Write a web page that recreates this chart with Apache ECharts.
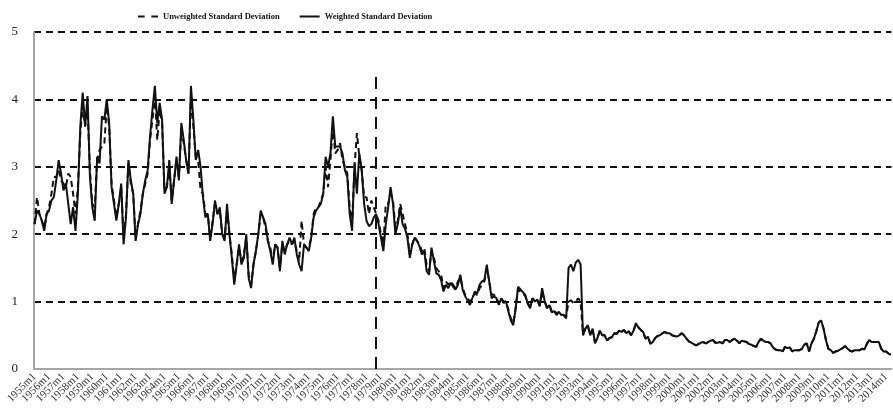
<!DOCTYPE html>
<html lang="en">
<head>
<meta charset="UTF-8">
<title>Standard Deviation</title>
<script src="https://cdn.jsdelivr.net/npm/echarts@6/dist/echarts.min.js"></script>
<style>
    html, body { margin: 0; padding: 0; background: #fff; }
    #chart { width: 893px; height: 412px; }
</style>
</head>
<body>
<div id="chart"></div>
<script type="text/javascript">

    // readings every 2 months (m1, m3, m5, m7, m9, m11), one line per year
    var w1955 = [
        2.15, 2.35, 2.3, 2.2, 2.05, 2.3,
        2.35, 2.5, 2.55, 2.8, 3.1, 2.9,
        2.65, 2.75, 2.45, 2.15, 2.4, 2.05,
        2.6, 3.6, 4.1, 3.6, 4.05, 2.85,
        2.4, 2.2, 3.15, 3.05, 3.75, 3.7,
        4.0, 3.65, 2.7, 2.45, 2.2, 2.45,
        2.75, 1.85, 2.25, 3.1, 2.8, 2.6,
        1.9, 2.15, 2.3, 2.6, 2.8, 2.95,
        3.45, 3.85, 4.2, 3.65, 3.95, 3.7,
        2.6, 2.7, 3.1, 2.45, 2.8, 3.15
    ];
    var w1965 = [
        2.8, 3.65, 3.4, 3.1, 2.9, 4.2,
        3.7, 3.1, 3.25, 3.0, 2.55, 2.25,
        2.3, 1.9, 2.15, 2.5, 2.3, 2.4,
        2.0, 1.9, 2.45, 2.0, 1.65, 1.25,
        1.55, 1.85, 1.55, 1.65, 2.0, 1.35,
        1.2, 1.55, 1.75, 2.0, 2.35, 2.25,
        2.15, 1.9, 1.75, 1.55, 1.85, 1.8,
        1.45, 1.9, 1.7, 1.85, 1.95, 1.85,
        1.95, 1.7, 1.55, 1.45, 1.85, 1.8,
        1.75, 1.95, 2.25, 2.35, 2.4, 2.45
    ];
    var w1975 = [
        2.6, 3.15, 3.0, 3.2, 3.75, 3.3,
        3.3, 3.3, 3.2, 2.95, 2.85, 2.3,
        2.05, 3.05, 2.6, 3.2, 2.95, 2.45,
        2.2, 2.12, 2.15, 2.25, 2.3, 2.15,
        1.95, 1.75, 2.15, 2.4, 2.7, 2.45,
        2.0, 2.15, 2.4, 2.15, 2.08, 1.95,
        1.65, 1.85, 1.95, 1.9, 1.82, 1.7,
        1.75, 1.45, 1.4, 1.8, 1.6, 1.42,
        1.4, 1.32, 1.15, 1.25, 1.2, 1.28,
        1.22, 1.18, 1.25, 1.4, 1.17, 1.08
    ];
    var w1985 = [
        1.02, 0.95, 1.05, 1.15, 1.12, 1.25,
        1.3, 1.32, 1.55, 1.3, 1.05, 1.08,
        1.05, 0.95, 1.05, 0.98, 1.0, 0.85,
        0.72, 0.65, 0.9, 1.22, 1.18, 1.14,
        1.1, 0.97, 0.9, 1.05, 1.0, 1.03,
        0.93, 1.2, 1.02, 0.9, 0.95, 0.84,
        0.86, 0.8, 0.85, 0.8, 0.8, 0.75,
        1.5, 1.55, 1.45, 1.58, 1.62, 1.55,
        0.5, 0.6, 0.65, 0.5, 0.6, 0.38,
        0.46, 0.57, 0.5, 0.5, 0.42, 0.46
    ];
    var w1995 = [
        0.47, 0.53, 0.52, 0.57, 0.55, 0.58,
        0.53, 0.56, 0.5, 0.57, 0.68, 0.62,
        0.58, 0.55, 0.45, 0.48, 0.37, 0.4,
        0.46, 0.49, 0.5, 0.53, 0.55, 0.53,
        0.53, 0.5, 0.49, 0.48, 0.5, 0.53,
        0.5, 0.45, 0.41, 0.39, 0.37, 0.35,
        0.37, 0.39, 0.4, 0.38, 0.4, 0.42,
        0.43, 0.39, 0.39, 0.4, 0.38, 0.43,
        0.43, 0.4, 0.43, 0.45, 0.42, 0.38,
        0.42, 0.41, 0.4, 0.37, 0.36, 0.34
    ];
    var w2005 = [
        0.33, 0.4, 0.45, 0.42, 0.4, 0.4,
        0.38, 0.32, 0.29, 0.28, 0.28, 0.26,
        0.33, 0.31, 0.32, 0.26, 0.28, 0.28,
        0.28, 0.3, 0.36, 0.38, 0.26, 0.38,
        0.45, 0.56, 0.69, 0.72, 0.6, 0.43,
        0.3, 0.28, 0.24, 0.26, 0.27, 0.29,
        0.31, 0.34, 0.3, 0.27, 0.26, 0.28,
        0.28, 0.28, 0.3, 0.29, 0.37, 0.43,
        0.4, 0.4, 0.4, 0.4, 0.3, 0.26,
        0.26, 0.23, 0.21
    ];

    var u1955 = [
        2.15, 2.55, 2.3, 2.2, 2.1, 2.3,
        2.4, 2.6, 2.85, 2.85, 2.95, 2.8,
        2.75, 2.7, 2.9, 2.85, 2.6, 2.3,
        2.7, 3.5, 3.9, 3.6, 3.9, 2.95,
        2.45, 2.4, 3.1, 3.25, 3.3, 3.35,
        3.9, 3.6, 2.75, 2.5, 2.25, 2.45,
        2.7, 1.95, 2.3, 3.05, 2.75, 2.6,
        1.95, 2.15, 2.35, 2.6, 2.75, 2.9,
        3.4, 3.7, 4.05, 3.4, 3.85, 3.65,
        2.65, 2.7, 3.0, 2.5, 2.8, 3.1
    ];
    var u1965 = [
        2.85, 3.55, 3.35, 3.1, 2.9, 4.05,
        3.6, 3.15, 3.1, 2.65, 2.6, 2.3,
        2.3, 1.95, 2.2, 2.45, 2.3, 2.35,
        2.0, 1.95, 2.35, 2.0, 1.7, 1.3,
        1.55, 1.8, 1.6, 1.7, 1.95, 1.4,
        1.25, 1.55, 1.75, 2.0, 2.3, 2.25,
        2.1, 1.9, 1.8, 1.6, 1.85, 1.8,
        1.5, 1.85, 1.75, 1.85, 1.9, 1.85,
        1.9, 1.75, 1.6, 2.2, 1.85, 1.8,
        1.8, 1.95, 2.3, 2.4, 2.4, 2.5
    ];
    var u1975 = [
        2.6, 3.0, 2.7, 3.1, 3.6, 3.2,
        3.25, 3.35, 3.1, 3.0, 2.9, 2.4,
        2.15, 3.0, 3.5, 3.15, 2.95, 2.55,
        2.55, 2.3, 2.5, 2.4, 2.3, 2.2,
        2.0, 1.85, 2.45, 2.45, 2.6, 2.5,
        2.1, 2.2, 2.45, 2.3, 2.15, 2.0,
        1.7, 1.85, 1.95, 1.9, 1.85, 1.75,
        1.8, 1.55, 1.45, 1.75, 1.65, 1.5,
        1.45, 1.4, 1.2, 1.3, 1.25, 1.3,
        1.25, 1.2, 1.3, 1.35, 1.2, 1.1
    ];
    var u1985 = [
        1.05, 1.0, 1.05, 1.12, 1.1, 1.2,
        1.25, 1.3, 1.5, 1.3, 1.1, 1.1,
        1.05, 0.98, 1.05, 1.0, 1.0, 0.88,
        0.75, 0.68, 0.9, 1.18, 1.15, 1.12,
        1.08, 0.98, 0.92, 1.05, 1.0, 1.02,
        0.95, 1.15, 1.0, 0.92, 0.95, 0.86,
        0.88, 0.82, 0.85, 0.82, 0.8, 0.78,
        1.0, 1.02, 0.98, 1.0, 1.05, 1.0,
        0.52, 0.6, 0.63, 0.52, 0.58, 0.4,
        0.46, 0.57, 0.5, 0.5, 0.42, 0.46
    ];
    var u1995 = [
        0.47, 0.53, 0.52, 0.57, 0.55, 0.58,
        0.53, 0.56, 0.5, 0.57, 0.66, 0.62,
        0.58, 0.55, 0.45, 0.48, 0.38, 0.4,
        0.46, 0.49, 0.5, 0.53, 0.55, 0.53,
        0.53, 0.5, 0.49, 0.48, 0.5, 0.53,
        0.5, 0.45, 0.41, 0.39, 0.37, 0.35,
        0.37, 0.39, 0.4, 0.38, 0.4, 0.42,
        0.43, 0.39, 0.39, 0.4, 0.38, 0.43,
        0.43, 0.4, 0.43, 0.45, 0.42, 0.38,
        0.42, 0.41, 0.4, 0.37, 0.36, 0.34
    ];
    var u2005 = [
        0.33, 0.4, 0.45, 0.42, 0.4, 0.4,
        0.38, 0.32, 0.29, 0.28, 0.28, 0.26,
        0.33, 0.31, 0.32, 0.26, 0.28, 0.28,
        0.28, 0.3, 0.36, 0.38, 0.26, 0.38,
        0.45, 0.56, 0.69, 0.72, 0.6, 0.43,
        0.3, 0.28, 0.24, 0.26, 0.27, 0.29,
        0.31, 0.34, 0.3, 0.27, 0.26, 0.28,
        0.28, 0.28, 0.3, 0.29, 0.37, 0.43,
        0.4, 0.4, 0.4, 0.4, 0.3, 0.26,
        0.26, 0.23, 0.21
    ];

    var firstYear = 1955, lastYear = 2014, lastMonth = 5;
    var breakMonth = '1978m9';
    var yTicks = [0, 1, 2, 3, 4, 5];

    var months = [];
    for (var y = firstYear; y <= lastYear; y++) {
        for (var m = 1; m <= 12; m++) {
            if (y === lastYear && m > lastMonth) break;
            months.push(y + 'm' + m);
        }
    }

    function toPairs(vals) {
        return vals.map(function (v, k) { return [k * 2, v]; });
    }
    var weighted = toPairs(w1955.concat(w1965, w1975, w1985, w1995, w2005));
    var unweighted = toPairs(u1955.concat(u1965, u1975, u1985, u1995, u2005));

    var serif = 'Liberation Serif';
    var myChart = echarts.init(document.getElementById('chart'));
    var option = {
        animation: false,
        textStyle: { fontFamily: serif },
        legend: {
            left: 133,
            top: 7,
            itemWidth: 20,
            itemHeight: 10,
            itemGap: 20,
            textStyle: { fontFamily: serif, fontWeight: 'bold', fontSize: 8.5, color: '#111' },
            data: [
                { name: 'Unweighted Standard Deviation', icon: 'path://M0,0H6V2H0Z M12,0H18V2H12Z' },
                { name: 'Weighted Standard Deviation', icon: 'path://M0,0H20V2H0Z' }
            ]
        },
        grid: { left: 34, right: 1, top: 32, bottom: 43 },
        xAxis: {
            type: 'category',
            data: months,
            boundaryGap: true,
            axisLine: { lineStyle: { color: '#a6a6a6', width: 2 } },
            axisTick: {
                interval: function (i) { return i % 12 === 0; },
                length: 4,
                lineStyle: { color: '#a6a6a6', width: 1 }
            },
            axisLabel: {
                // every category gets a label slot, only January is written
                interval: 0,
                formatter: function (v, i) { return i % 12 === 0 ? v : ''; },
                rotate: 45,
                margin: 6,
                fontSize: 11,
                color: '#333',
                fontFamily: serif
            },
            splitLine: { show: false }
        },
        yAxis: {
            type: 'value',
            min: yTicks[0],
            max: yTicks[yTicks.length - 1],
            interval: 1,
            axisLine: { show: true, lineStyle: { color: '#a6a6a6', width: 2 } },
            axisTick: { show: false },
            axisLabel: { fontSize: 13, color: '#222', margin: 16, fontFamily: serif },
            splitLine: { lineStyle: { color: '#111', width: 1.8, type: [7, 5] } }
        },
        series: [
            {
                name: 'Unweighted Standard Deviation',
                type: 'line',
                data: unweighted,
                symbol: 'none',
                lineStyle: { color: '#111', width: 2, type: [6, 4] },
                itemStyle: { color: '#111' },
                markLine: {
                    silent: true,
                    symbol: 'none',
                    label: { show: false },
                    lineStyle: { color: '#111', width: 2, type: [12, 8] },
                    data: [[
                        { coord: [breakMonth, 0] },
                        { coord: [breakMonth, 4.45] }
                    ]]
                }
            },
            {
                name: 'Weighted Standard Deviation',
                type: 'line',
                data: weighted,
                symbol: 'none',
                lineStyle: { color: '#111', width: 2 },
                itemStyle: { color: '#111' }
            }
        ]
    };
    myChart.setOption(option);

</script>
</body>
</html>
